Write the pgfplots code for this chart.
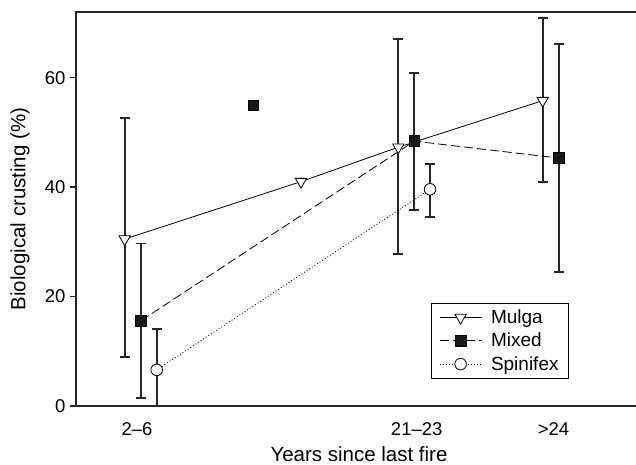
\documentclass[border=0pt]{standalone}
\usepackage{pgfplots}
\pgfplotsset{compat=1.18}
\usepackage{fontspec}
\setmainfont{Liberation Sans}

\begin{document}
\begin{tikzpicture}
\begin{axis}[
  scale only axis,
  width=566pt, height=394pt,
  xmin=0, xmax=566, ymin=0, ymax=72,
  axis line style={line width=1.3pt, black!85},
  xtick={61,340.7,477.5},
  xticklabels={2--6, 21--23, >24},
  ytick={0,20,40,60},
  tick align=outside,
  major tick length=6pt,
  y tick style={line width=1.3pt, black!85},
  x tick style={draw=none},
  ytick pos=left,
  /pgf/number format/assume math mode=true,
  tick label style={font=\fontsize{18.5}{20}\selectfont},
  xticklabel style={yshift=-7pt},
  yticklabel style={xshift=-1pt},
  xlabel={Years since last fire},
  ylabel={Biological crusting (\%)},
  label style={font=\fontsize{20.5}{23}\selectfont},
  xlabel style={at={(axis cs:283,0)}, anchor=center, yshift=-48pt},
  ylabel style={at={(axis description cs:0,0.5)}, anchor=center, yshift=56pt},
  legend style={
    at={(axis cs:493,5.0)}, anchor=south east,
    draw=black, line width=0.8pt, fill=white,
    font=\fontsize{19}{22}\selectfont,
    inner xsep=8pt, inner ysep=4.5pt,
    row sep=4pt,
    column sep=7pt,
    cells={anchor=west},
  },
  legend image code/.code={
    \draw[mark repeat=2, mark phase=2]
      plot coordinates {(0pt,0pt) (21pt,0pt) (42pt,0pt)};
  },
]

% error bars, drawn first so the symbols sit on top
\pgfplotsset{
  ebar/.style={
    forget plot, draw=none, mark=none,
    error bars/y dir=both, error bars/y explicit,
    error bars/error bar style={line width=1.9pt, black!85},
    error bars/error mark options={line width=1.9pt, black!85, mark size=5pt, rotate=90},
  }
}
\addplot[ebar] coordinates {
  (48.7,30.5) += (0,22.1) -= (0,21.5)
  (322.3,47.3) += (0,19.8) -= (0,19.6)
  (466.7,55.8) += (0,15.1) -= (0,14.9)
};
\addplot[ebar] coordinates {
  (65,15.6) += (0,14.1) -= (0,14.2)
  (338.3,48.4) += (0,12.4) -= (0,12.6)
  (483,45.3) += (0,20.9) -= (0,20.8)
};
\addplot[ebar] coordinates {
  (80.7,6.6) += (0,7.5) -= (0,7.5)
  (354,39.6) += (0,4.7) -= (0,5.1)
};

% Mulga
\addplot[black, line width=0.8pt, mark=triangle*,
  mark options={fill=white, rotate=180, solid, line width=0.8pt, mark size=6.5pt}]
  coordinates {(48.7,30.5) (225,41.0) (322.3,47.3) (466.7,55.8)};
\addlegendentry{Mulga}

% Mixed
\addplot[black, line width=0.8pt, dash pattern=on 9pt off 4pt, mark=square*,
  mark options={fill=black!90, solid, mark size=5.3pt}]
  coordinates {(65,15.6) (338.3,48.4) (483,45.3)};
\addlegendentry{Mixed}

% Spinifex
\addplot[black, line width=0.8pt, dash pattern=on 0.9pt off 2.2pt, mark=*,
  mark options={fill=white, solid, line width=0.8pt, mark size=5.8pt}]
  coordinates {(80.7,6.6) (354,39.6)};
\addlegendentry{Spinifex}

% single Mixed value without a connecting line
\addplot[forget plot, only marks, mark=square*, black,
  mark options={fill=black!90, mark size=5.3pt}]
  coordinates {(177,55.0)};

\end{axis}
\pgfresetboundingbox
\useasboundingbox ([shift={(-76pt,-59pt)}]current axis.south west)
  rectangle ([shift={(-6pt,12pt)}]current axis.north east);
\end{tikzpicture}
\end{document}
